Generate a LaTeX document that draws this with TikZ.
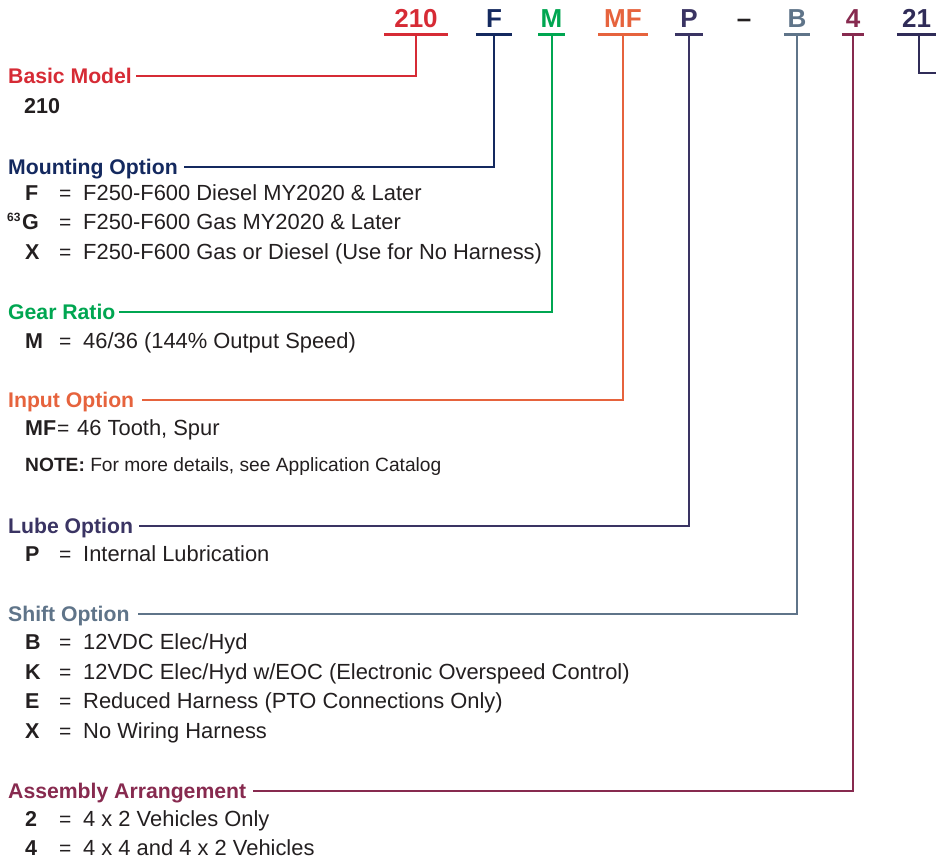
\documentclass[tikz,border=0pt]{standalone}
\usepackage{fontspec}
\setmainfont{Liberation Sans}
\definecolor{cRed}{HTML}{D62B35}
\definecolor{cNavy}{HTML}{14295F}
\definecolor{cGreen}{HTML}{00A651}
\definecolor{cOrange}{HTML}{E6633D}
\definecolor{cPurple}{HTML}{3A3463}
\definecolor{cSlate}{HTML}{5F7489}
\definecolor{cMaroon}{HTML}{872A4F}
\definecolor{cDark}{HTML}{302C58}
\definecolor{cText}{HTML}{231F20}
\begin{document}
\begin{tikzpicture}[x=1pt,y=-1pt,
  code/.style={font=\fontsize{26}{26}\selectfont\bfseries, inner xsep=0pt, inner ysep=0pt,
               text height=18pt, text depth=7pt, anchor=base},
  uline/.style={line width=2.6pt},
  conn/.style={line width=2pt},
  head/.style={font=\fontsize{21.2}{21}\selectfont\bfseries, inner sep=0pt,
               text height=15pt, text depth=0pt, anchor=base west},
  key/.style={font=\fontsize{21.5}{21}\selectfont\bfseries, text=cText, inner sep=0pt, anchor=base west},
  eq/.style={font=\fontsize{21}{21}\selectfont, text=cText, inner sep=0pt, anchor=base west},
  desc/.style={font=\fontsize{21.9}{21}\selectfont, text=cText, inner sep=0pt, anchor=base west},
  note/.style={font=\fontsize{19.2}{19}\selectfont, text=cText, inner sep=0pt, anchor=base west}
]
\useasboundingbox (0,0) rectangle (936,860);

% ---- model code header ----
\node[code, text=cRed, minimum width=63pt] (c210) at (416,27) {210};
\node[code, text=cNavy, minimum width=36pt] (cF) at (494,27) {F};
\node[code, text=cGreen, minimum width=26pt] (cM) at (551.5,27) {M};
\node[code, text=cOrange, minimum width=49pt] (cMF) at (623,27) {MF};
\node[code, text=cPurple, minimum width=28pt] (cP) at (689,27) {P};
\node[code, text=cText] (cdash) at (744,27) {–};
\node[code, text=cSlate, minimum width=26pt] (cB) at (797,27) {B};
\node[code, text=cMaroon, minimum width=22pt] (c4) at (853,27) {4};
\node[code, text=cDark, minimum width=39pt] (c21) at (916.5,27) {21};

\draw[uline, cRed] (c210.south west) -- (c210.south east);
\draw[uline, cNavy] (cF.south west) -- (cF.south east);
\draw[uline, cGreen] (cM.south west) -- (cM.south east);
\draw[uline, cOrange] (cMF.south west) -- (cMF.south east);
\draw[uline, cPurple] (cP.south west) -- (cP.south east);
\draw[uline, cSlate] (cB.south west) -- (cB.south east);
\draw[uline, cMaroon] (c4.south west) -- (c4.south east);
\draw[uline, cDark] (c21.south west) -- (c21.south east);

% ---- Basic Model ----
\node[head, text=cRed] (hBasic) at (8,83) {Basic Model};
\node[key] (k210) at (24,113) {210};

% ---- Mounting Option ----
\node[head, text=cNavy] (hMount) at (8,174) {Mounting Option};
\node[key] (kF) at (25,200) {F};
\node[eq] (eF) at (59,200) {=};
\node[desc] (dF) at (83,200) {F250-F600 Diesel MY2020 \& Later};
\node[font=\fontsize{12}{12}\selectfont\bfseries, text=cText, inner sep=0pt, anchor=base west] (sG) at (7,221) {63};
\node[key] (kG) at (22,229) {G};
\node[eq] (eG) at (59,229) {=};
\node[desc] (dG) at (83,229) {F250-F600 Gas MY2020 \& Later};
\node[key] (kX1) at (25,259) {X};
\node[eq] (eX1) at (59,259) {=};
\node[desc] (dX1) at (83,259) {F250-F600 Gas or Diesel (Use for No Harness)};

% ---- Gear Ratio ----
\node[head, text=cGreen] (hGear) at (8,319) {Gear Ratio};
\node[key] (kM) at (25,348) {M};
\node[eq] (eM) at (59,348) {=};
\node[desc] (dM) at (83,348) {46/36 (144\% Output Speed)};

% ---- Input Option ----
\node[head, text=cOrange] (hInput) at (8,407) {Input Option};
\node[key] (kMF) at (25,435) {MF};
\node[eq] (eMF) at (57,435) {=};
\node[desc] (dMF) at (77,435) {46 Tooth, Spur};
\node[note] (nNote) at (25,471) {\textbf{NOTE:} For more details, see Application Catalog};

% ---- Lube Option ----
\node[head, text=cPurple] (hLube) at (8,533) {Lube Option};
\node[key] (kP) at (25,561) {P};
\node[eq] (eP) at (59,561) {=};
\node[desc] (dP) at (83,561) {Internal Lubrication};

% ---- Shift Option ----
\node[head, text=cSlate] (hShift) at (8,621) {Shift Option};
\node[key] (kB) at (25,649) {B};
\node[eq] (eB) at (59,649) {=};
\node[desc] (dB) at (83,649) {12VDC Elec/Hyd};
\node[key] (kK) at (25,679) {K};
\node[eq] (eK) at (59,679) {=};
\node[desc] (dK) at (83,679) {12VDC Elec/Hyd w/EOC (Electronic Overspeed Control)};
\node[key] (kE) at (25,708) {E};
\node[eq] (eE) at (59,708) {=};
\node[desc] (dE) at (83,708) {Reduced Harness (PTO Connections Only)};
\node[key] (kX2) at (25,738) {X};
\node[eq] (eX2) at (59,738) {=};
\node[desc] (dX2) at (83,738) {No Wiring Harness};

% ---- Assembly Arrangement ----
\node[head, text=cMaroon] (hAssy) at (8,798) {Assembly Arrangement};
\node[key] (k2) at (25,826) {2};
\node[eq] (e2) at (59,826) {=};
\node[desc] (d2) at (83,826) {4 x 2 Vehicles Only};
\node[key] (k4) at (25,855) {4};
\node[eq] (e4) at (59,855) {=};
\node[desc] (d4) at (83,855) {4 x 4 and 4 x 2 Vehicles};

% ---- connectors ----
\draw[conn, cRed] (c210.south) |- ([xshift=4pt]hBasic.east);
\draw[conn, cNavy] (cF.south) |- ([xshift=6pt]hMount.east);
\draw[conn, cGreen] (cM.south) |- ([xshift=3pt]hGear.east);
\draw[conn, cOrange] (cMF.south) |- ([xshift=8pt]hInput.east);
\draw[conn, cPurple] (cP.south) |- ([xshift=6pt]hLube.east);
\draw[conn, cSlate] (cB.south) |- ([xshift=8pt]hShift.east);
\draw[conn, cMaroon] (c4.south) |- ([xshift=7pt]hAssy.east);
\coordinate (e21) at (937,73);
\draw[conn, cDark] ([xshift=2.5pt]c21.south) |- (e21);
\end{tikzpicture}
\end{document}
